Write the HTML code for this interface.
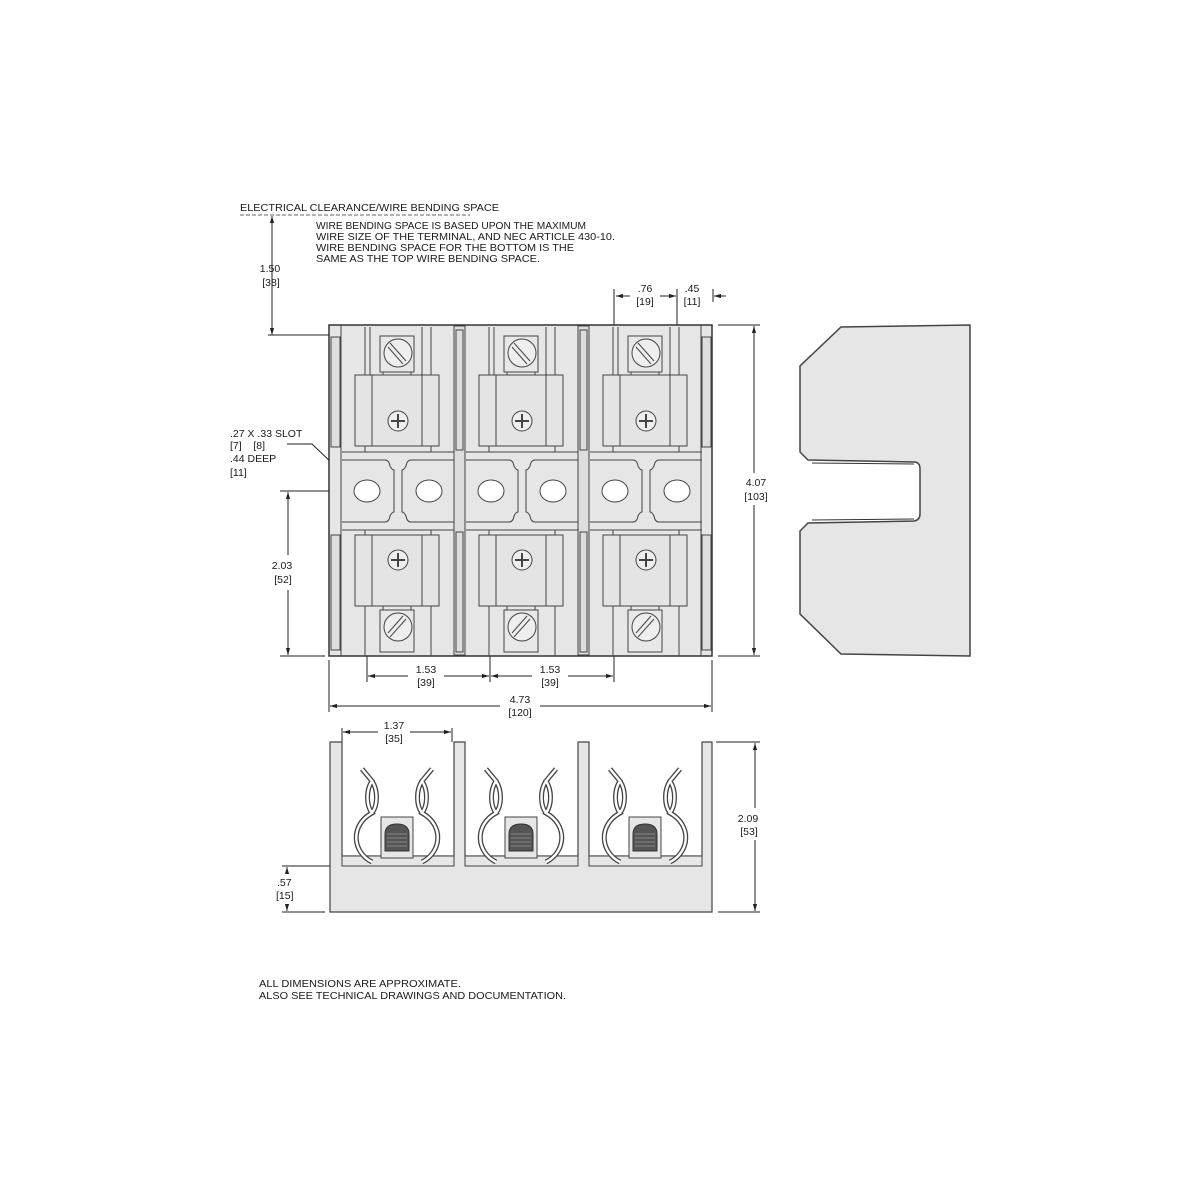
<!DOCTYPE html>
<html><head><meta charset="utf-8"><style>
html,body{margin:0;padding:0;background:#fff}
svg{display:block}
text{font-family:"Liberation Sans",Arial,sans-serif;font-size:10.5px;fill:#1a1a1a}
</style></head><body>
<svg width="1200" height="1200" viewBox="0 0 1200 1200" xmlns="http://www.w3.org/2000/svg">
<defs>
<marker id="ar" viewBox="0 0 10 10" refX="10" refY="5" markerWidth="7" markerHeight="7" orient="auto-start-reverse"><path d="M0,2 L10,5 L0,8 z" fill="#222"/></marker>
<g id="topcol" stroke="#444" stroke-width="1" fill="none">
  <line x1="365" y1="327" x2="365" y2="452"/><line x1="370" y1="327" x2="370" y2="375"/>
  <line x1="422" y1="327" x2="422" y2="375"/><line x1="431" y1="327" x2="431" y2="452"/>
  <rect x="380" y="336" width="34" height="36" fill="#e8e8e8"/>
  <line x1="383" y1="372" x2="383" y2="378"/><line x1="411" y1="372" x2="411" y2="378"/>
  <circle cx="398" cy="353" r="14" fill="#eee"/>
  <line x1="390" y1="343" x2="406" y2="361"/><line x1="388" y1="347" x2="403" y2="364"/>
  <rect x="355" y="375" width="84" height="71" fill="#e4e4e4"/>
  <line x1="372" y1="375" x2="372" y2="446"/><line x1="422" y1="375" x2="422" y2="446"/>
  <circle cx="398" cy="421" r="10" fill="#eee"/>
  <path d="M398,414 v14 M391,421 h14" stroke-width="2"/>
  <path d="M342,452 H454 M342,460 H385 Q389,460 390,466 Q392,470 394,470 V512 Q392,512 390,516 Q389,522 385,522 H342 M454,460 H411 Q407,460 406,466 Q404,470 402,470 V512 Q404,512 406,516 Q407,522 411,522 H454 M342,530 H454"/>
  <ellipse cx="367" cy="491" rx="13" ry="11" fill="#fff"/>
  <ellipse cx="429" cy="491" rx="13" ry="11" fill="#fff"/>
  <line x1="365" y1="530" x2="365" y2="656"/><line x1="431" y1="530" x2="431" y2="656"/>
  <rect x="355" y="535" width="84" height="71" fill="#e4e4e4"/>
  <line x1="372" y1="535" x2="372" y2="606"/><line x1="422" y1="535" x2="422" y2="606"/>
  <circle cx="398" cy="560" r="10" fill="#eee"/>
  <path d="M398,553 v14 M391,560 h14" stroke-width="2"/>
  <line x1="383" y1="606" x2="383" y2="612"/><line x1="411" y1="606" x2="411" y2="612"/>
  <rect x="380" y="610" width="34" height="42" fill="#e8e8e8"/>
  <circle cx="398" cy="627" r="14" fill="#eee"/>
  <line x1="390" y1="637" x2="406" y2="619"/><line x1="388" y1="633" x2="403" y2="616"/>
</g>
<g id="clip" fill="none">
  <g stroke="#444" stroke-width="5">
    <path d="M362,769 L372,781 C366,790 366,805 372,813 C350,825 352,852 372,862"/>
    <path d="M372,781 C378,790 378,805 372,813"/>
    <path d="M432,769 L422,781 C428,790 428,805 422,813 C444,825 442,852 422,862"/>
    <path d="M422,781 C416,790 416,805 422,813"/>
  </g>
  <g stroke="#fff" stroke-width="2.4">
    <path d="M362,769 L372,781 C366,790 366,805 372,813 C350,825 352,852 372,862"/>
    <path d="M372,781 C378,790 378,805 372,813"/>
    <path d="M432,769 L422,781 C428,790 428,805 422,813 C444,825 442,852 422,862"/>
    <path d="M422,781 C416,790 416,805 422,813"/>
  </g>
  <rect x="381" y="817" width="32" height="41" fill="#e6e6e6" stroke="#444"/>
  <path d="M385,851 V834 Q385,824 397,824 Q409,824 409,834 V851 Z" fill="#555" stroke="#333"/>
  <path d="M387,834 H407 M387,838 H407 M387,842 H407 M387,846 H407" stroke="#888" stroke-width="1"/>
</g>
</defs>

<text x="240" y="211" textLength="259" lengthAdjust="spacingAndGlyphs">ELECTRICAL CLEARANCE/WIRE BENDING SPACE</text>
<line x1="240" y1="215" x2="470" y2="215" stroke="#666" stroke-dasharray="4,2"/>
<text x="316" y="229" textLength="270" lengthAdjust="spacingAndGlyphs">WIRE BENDING SPACE IS BASED UPON THE MAXIMUM</text>
<text x="316" y="240" textLength="299" lengthAdjust="spacingAndGlyphs">WIRE SIZE OF THE TERMINAL, AND NEC ARTICLE 430-10.</text>
<text x="316" y="251" textLength="258" lengthAdjust="spacingAndGlyphs">WIRE BENDING SPACE FOR THE BOTTOM IS THE</text>
<text x="316" y="262" textLength="224" lengthAdjust="spacingAndGlyphs">SAME AS THE TOP WIRE BENDING SPACE.</text>

<g stroke="#222" stroke-width="1" fill="none">
  <line x1="272" y1="216" x2="272" y2="335" marker-start="url(#ar)" marker-end="url(#ar)"/>
  <line x1="268" y1="335" x2="380" y2="335"/>
  <line x1="614" y1="289" x2="614" y2="470"/>
  <line x1="677" y1="289" x2="677" y2="470"/>
  <line x1="713" y1="289" x2="713" y2="302"/>
  <line x1="616" y1="296" x2="630" y2="296" marker-start="url(#ar)"/>
  <line x1="660" y1="296" x2="676" y2="296" marker-end="url(#ar)"/>
  <line x1="726" y1="296" x2="714" y2="296" marker-end="url(#ar)"/>
  <line x1="718" y1="325" x2="760" y2="325"/>
  <line x1="718" y1="656" x2="760" y2="656"/>
  <line x1="754" y1="326" x2="754" y2="473" marker-start="url(#ar)"/>
  <line x1="754" y1="505" x2="754" y2="655" marker-end="url(#ar)"/>
  <path d="M287,444 H312 L355,485"/>
  <line x1="280" y1="491" x2="355" y2="491"/>
  <line x1="288" y1="492" x2="288" y2="555" marker-start="url(#ar)"/>
  <line x1="288" y1="590" x2="288" y2="655" marker-end="url(#ar)"/>
  <line x1="280" y1="656" x2="325" y2="656"/>
  <line x1="367" y1="505" x2="367" y2="682"/>
  <line x1="490" y1="505" x2="490" y2="682"/>
  <line x1="614" y1="505" x2="614" y2="682"/>
  <line x1="368" y1="676" x2="408" y2="676" marker-start="url(#ar)"/>
  <line x1="444" y1="676" x2="489" y2="676" marker-end="url(#ar)"/>
  <line x1="491" y1="676" x2="532" y2="676" marker-start="url(#ar)"/>
  <line x1="568" y1="676" x2="613" y2="676" marker-end="url(#ar)"/>
  <line x1="329" y1="660" x2="329" y2="712"/>
  <line x1="712" y1="660" x2="712" y2="712"/>
  <line x1="330" y1="706" x2="500" y2="706" marker-start="url(#ar)"/>
  <line x1="540" y1="706" x2="711" y2="706" marker-end="url(#ar)"/>
  <line x1="342" y1="728" x2="342" y2="742"/>
  <line x1="452" y1="728" x2="452" y2="742"/>
  <line x1="343" y1="732" x2="378" y2="732" marker-start="url(#ar)"/>
  <line x1="410" y1="732" x2="451" y2="732" marker-end="url(#ar)"/>
  <line x1="716" y1="742" x2="760" y2="742"/>
  <line x1="718" y1="912" x2="760" y2="912"/>
  <line x1="755" y1="743" x2="755" y2="808" marker-start="url(#ar)"/>
  <line x1="755" y1="840" x2="755" y2="911" marker-end="url(#ar)"/>
  <line x1="282" y1="866" x2="337" y2="866"/>
  <line x1="282" y1="912" x2="325" y2="912"/>
  <line x1="287" y1="874" x2="287" y2="867" marker-end="url(#ar)"/>
  <line x1="287" y1="904" x2="287" y2="911" marker-end="url(#ar)"/>
</g>

<g text-anchor="middle">
<text x="270" y="272">1.50</text><text x="271" y="286">[38]</text>
<text x="645" y="292">.76</text><text x="645" y="305">[19]</text>
<text x="692" y="292">.45</text><text x="692" y="305">[11]</text>
<text x="756" y="486">4.07</text><text x="756" y="500">[103]</text>
<text x="282" y="569">2.03</text><text x="283" y="583">[52]</text>
<text x="426" y="673">1.53</text><text x="426" y="686">[39]</text>
<text x="550" y="673">1.53</text><text x="550" y="686">[39]</text>
<text x="520" y="703">4.73</text><text x="520" y="716">[120]</text>
<text x="394" y="729">1.37</text><text x="394" y="742">[35]</text>
<text x="748" y="822">2.09</text><text x="749" y="835">[53]</text>
</g>
<text x="277" y="886">.57</text><text x="276" y="899">[15]</text>
<text x="230" y="437">.27 X .33 SLOT</text>
<text x="230" y="449">[7]&#160;&#160;&#160; [8]</text>
<text x="230" y="462">.44 DEEP</text>
<text x="230" y="476">[11]</text>

<rect x="329" y="325" width="383" height="331" fill="#e6e6e6" stroke="#333" stroke-width="1.5"/>
<g stroke="#444" fill="none">
  <line x1="341" y1="325" x2="341" y2="656"/>
  <rect x="331" y="337" width="9" height="110" fill="#ddd"/>
  <rect x="331" y="535" width="9" height="115" fill="#ddd"/>
  <line x1="701" y1="325" x2="701" y2="656"/>
  <rect x="702" y="337" width="9" height="110" fill="#ddd"/>
  <rect x="702" y="535" width="9" height="115" fill="#ddd"/>
  <rect x="454" y="326" width="11" height="329" fill="#ddd"/>
  <rect x="456" y="330" width="7" height="120" />
  <rect x="456" y="532" width="7" height="120" />
  <rect x="578" y="326" width="11" height="329" fill="#ddd"/>
  <rect x="580" y="330" width="7" height="120" />
  <rect x="580" y="532" width="7" height="120" />
</g>
<use href="#topcol"/>
<use href="#topcol" x="124"/>
<use href="#topcol" x="248"/>

<path d="M841,327 L970,325 L970,656 L841,654 L800,614 L800,531 L808,523 L914,521 Q920,520 920,514 L920,469 Q920,462 914,462 L808,460 L800,452 L800,366 Z" fill="#e6e6e6" stroke="#444" stroke-width="1.5"/>
<line x1="812" y1="463" x2="914" y2="464" stroke="#333"/>
<line x1="812" y1="520" x2="914" y2="519" stroke="#333"/>

<path d="M330,742 H342 V856 H454 V742 H465 V856 H578 V742 H589 V856 H702 V742 H712 V912 H330 Z" fill="#e6e6e6" stroke="#444" stroke-width="1.2"/>
<g stroke="#444" fill="#e6e6e6">
  <rect x="342" y="856" width="112" height="10"/>
  <rect x="465" y="856" width="113" height="10"/>
  <rect x="589" y="856" width="113" height="10"/>
</g>
<use href="#clip"/>
<use href="#clip" x="124"/>
<use href="#clip" x="248"/>

<text x="259" y="987" textLength="202" lengthAdjust="spacingAndGlyphs">ALL DIMENSIONS ARE APPROXIMATE.</text>
<text x="259" y="999" textLength="307" lengthAdjust="spacingAndGlyphs">ALSO SEE TECHNICAL DRAWINGS AND DOCUMENTATION.</text>
</svg>
</body></html>
